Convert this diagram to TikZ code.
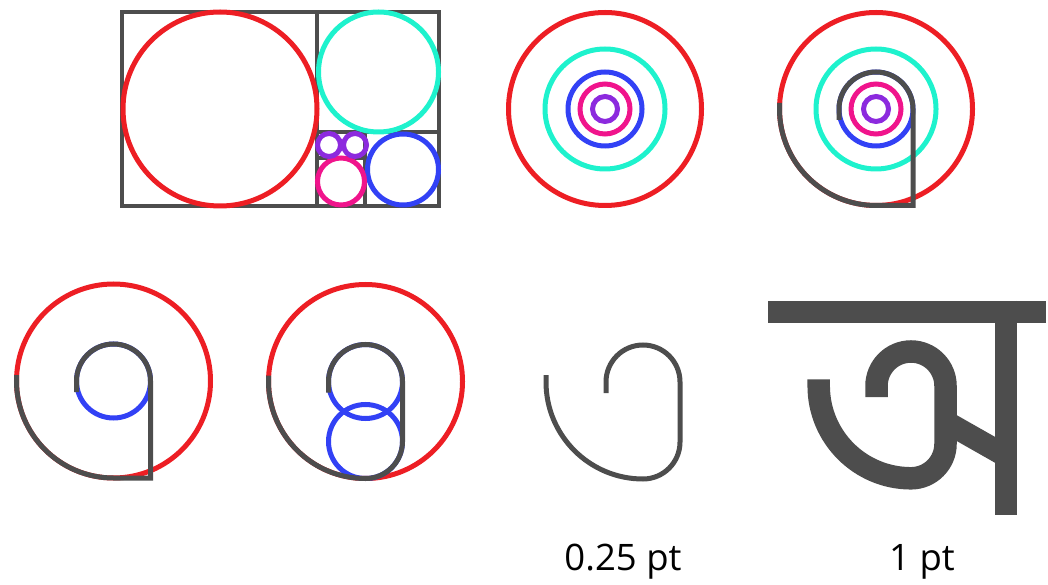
\documentclass[tikz,border=0pt]{standalone}
\usepackage{fontspec}
\setmainfont{Open Sans}
\usetikzlibrary{calc}
\definecolor{cred}{RGB}{237,30,36}
\definecolor{ccyan}{RGB}{30,242,205}
\definecolor{cblue}{RGB}{50,65,245}
\definecolor{cpink}{RGB}{240,20,140}
\definecolor{cpurple}{RGB}{140,42,222}
\definecolor{cgray}{RGB}{77,77,77}
\tikzset{
  frame/.style={draw=cgray,line width=4.5pt},
  ring/.style={line width=5pt},
  glyph/.style={draw=cgray,line width=5pt},
  thick glyph/.style={draw=cgray,line width=22.5pt},
  label/.style={font=\fontsize{36.5}{40}\selectfont,text=black,anchor=base,inner sep=0pt}
}
\begin{document}
\begin{tikzpicture}[x=1pt,y=1pt]
\useasboundingbox (0,0) rectangle (1048,584);
% ---------- panel 1: golden rectangle ----------
\draw[frame] (122,378) rectangle (439,572);
\draw[frame] (317,378) -- (317,572);
\draw[frame] (317,452) -- (439,452);
\draw[frame] (365,378) -- (365,452);
\draw[frame] (317,426) -- (365,426);
\draw[ring,cred] (220,475) circle[radius=97];
\draw[ring,ccyan] (378.5,512) circle[radius=60];
\draw[ring,cblue] (403,414.5) circle[radius=35.5];
\draw[ring,cpink] (341,402.5) circle[radius=23.5];
\draw[ring,cpurple] (329,439) circle[radius=11.5];
\draw[ring,cpurple] (355,439) circle[radius=11.5];
% ---------- panel 2: concentric rings ----------
\coordinate (c2) at (605,475);
\draw[ring,cred] (c2) circle[radius=96.5];
\draw[ring,ccyan] (c2) circle[radius=60];
\draw[ring,cblue] (c2) circle[radius=37];
\draw[ring,cpink] (c2) circle[radius=25];
\draw[ring,cpurple] (c2) circle[radius=12.5];
% ---------- panel 3: rings with stroke ----------
\coordinate (c3) at (876,475);
\draw[ring,cred] (c3) circle[radius=96.5];
\draw[ring,ccyan] (c3) circle[radius=60];
\draw[ring,cblue] (c3) circle[radius=37];
\draw[ring,cpink] (c3) circle[radius=25];
\draw[ring,cpurple] (c3) circle[radius=12.5];
\draw[glyph] ($(c3)+(-96.5,6)$) -- ++(0,-6) arc[start angle=180,end angle=270,radius=96.5]
  -- ++(37,0) -- ++(0,96.5) arc[start angle=0,end angle=180,radius=37] -- ++(0,-11);
% ---------- panel 4 ----------
\coordinate (c4) at (113.5,203);
\draw[ring,cred] (c4) circle[radius=97];
\draw[ring,cblue] (c4) circle[radius=37];
\draw[glyph] ($(c4)+(-97,6)$) -- ++(0,-6) arc[start angle=180,end angle=270,radius=97]
  -- ++(37,0) -- ++(0,97) arc[start angle=0,end angle=180,radius=37] -- ++(0,-11);
% ---------- panel 5 ----------
\coordinate (c5) at (365.5,202.5);
\coordinate (d5) at (365.5,142.5);
\draw[ring,cred] (c5) circle[radius=97];
\draw[ring,cblue] (c5) circle[radius=37];
\draw[ring,cblue] (d5) circle[radius=37];
\draw[glyph] ($(c5)+(-97,6)$) -- ++(0,-6) arc[start angle=180,end angle=270,radius=97]
  arc[start angle=270,end angle=360,radius=37] -- ++(0,60)
  arc[start angle=0,end angle=180,radius=37] -- ++(0,-11);
% ---------- panel 6 ----------
\coordinate (c6) at (643,202);
\draw[glyph] ($(c6)+(-97,7)$) -- ++(0,-7) arc[start angle=180,end angle=270,radius=97]
  arc[start angle=270,end angle=360,radius=37] -- ++(0,60)
  arc[start angle=0,end angle=180,radius=37] -- ++(0,-11);
% ---------- panel 7: the letter ----------
\coordinate (c7) at (911,198);
\draw[thick glyph] ($(c7)+(-92.3,6.7)$) -- ++(0,-6.7) arc[start angle=180,end angle=270,radius=92.3]
  arc[start angle=270,end angle=360,radius=34.5] -- ++(0,57.8)
  arc[start angle=0,end angle=180,radius=34.5] -- ++(0,-11);
\coordinate (b1) at (768,272);
\coordinate (b2) at (1046,272);
\coordinate (s1) at (1006,283);
\coordinate (s2) at (1006,69);
\coordinate (g1) at (946,162);
\coordinate (g2) at (1005,128.5);
\draw[line width=22pt,cgray] (b1) -- (b2);
\draw[line width=22pt,cgray] (s1) -- (s2);
\draw[line width=22.5pt,cgray] (g1) -- (g2);
% ---------- labels ----------
\node[label] (l1) at (623,14) {0.25 pt};
\node[label] (l2) at (922,14) {1 pt};
\end{tikzpicture}
\end{document}
